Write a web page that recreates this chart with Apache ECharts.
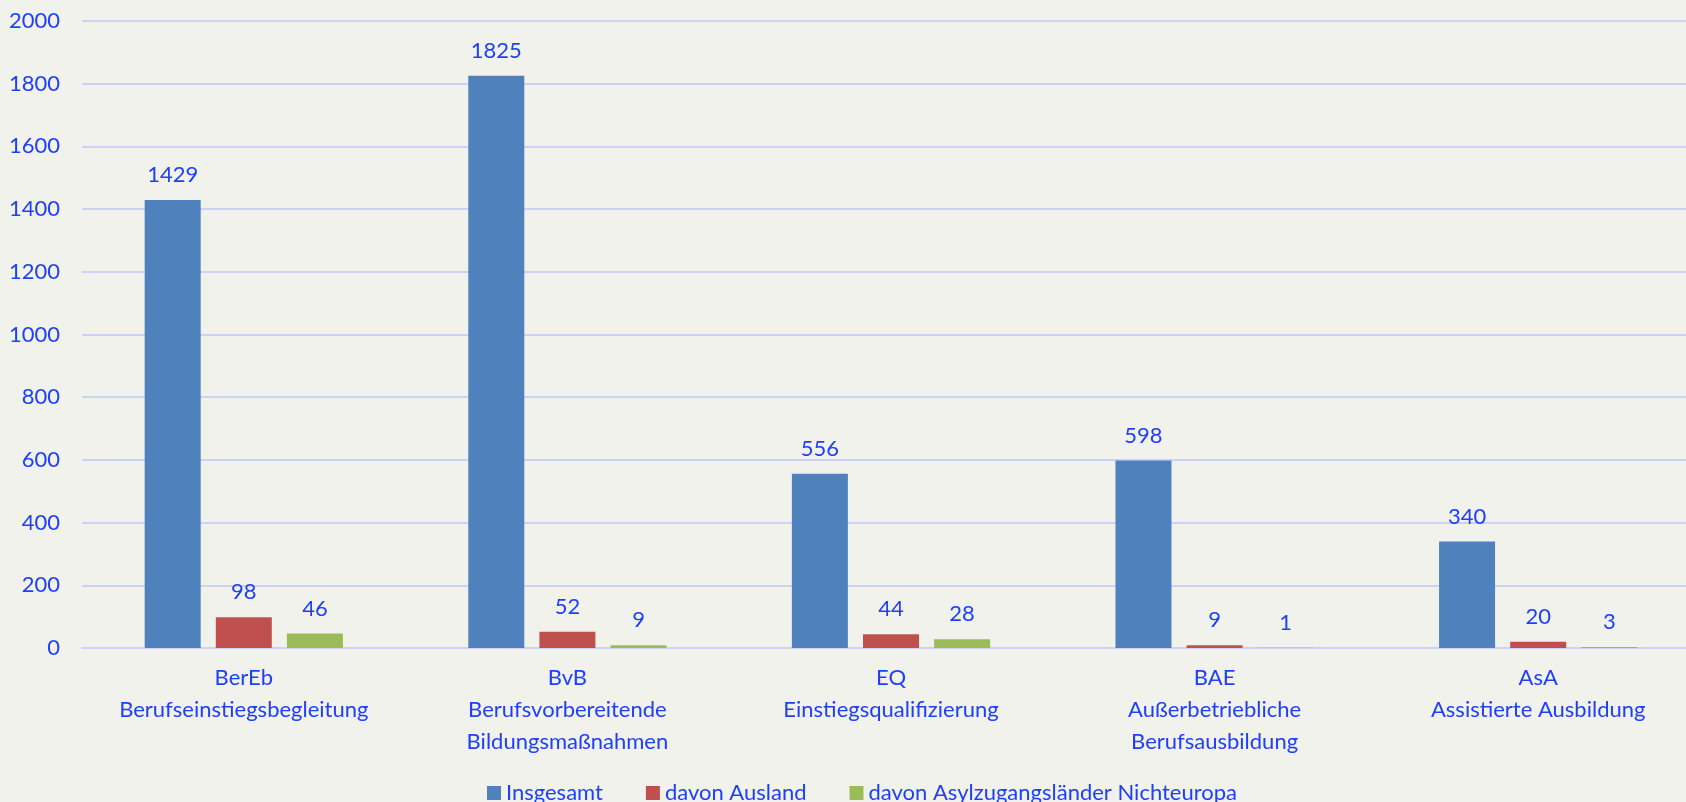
<!DOCTYPE html>
<html>
<head>
<meta charset="utf-8">
<script src="https://cdn.jsdelivr.net/npm/echarts@6/dist/echarts.min.js"></script>
<style>
  html, body { margin: 0; padding: 0; background: #f2f2ec; }
  #chart { width: 1686px; height: 802px; }
</style>
</head>
<body>
<div id="chart"></div>
<script>
const categories = [
  'BerEb\nBerufseinstiegsbegleitung',
  'BvB\nBerufsvorbereitende\nBildungsmaßnahmen',
  'EQ\nEinstiegsqualifizierung',
  'BAE\nAußerbetriebliche\nBerufsausbildung',
  'AsA\nAssistierte Ausbildung'
]
const seriesNames = ['Insgesamt', 'davon Ausland', 'davon Asylzugangsländer Nichteuropa']
const insgesamt = [1429, 1825, 556, 598, 340]
const ausland = [98, 52, 44, 9, 20]
const asyl = [46, 9, 28, 1, 3]
const yTicks = [0, 200, 400, 600, 800, 1000, 1200, 1400, 1600, 1800, 2000]

const textColor = '#1f40f8'
const gridColor = '#cbd2f6'
const font = 'Lato'
const colors = ['#4f81bd', '#c0504d', '#9bbb59']

const chart = echarts.init(document.getElementById('chart'))

const barLabel = {
  show: true,
  position: 'top',
  distance: 14,
  color: textColor,
  fontFamily: font,
  fontSize: 22
}

function makeBar(name, data, color) {
  return {
    name: name,
    type: 'bar',
    data: data,
    barWidth: 56,
    barGap: '27%',
    itemStyle: { color: color },
    label: barLabel,
    animation: false
  }
}

const option = {
  backgroundColor: '#f2f2ec',
  grid: {
    left: 82,
    top: 21,
    width: 1618,
    height: 627,
    outerBoundsMode: 'none'
  },
  legend: {
    data: seriesNames,
    left: 487,
    top: 782,
    padding: 0,
    itemWidth: 14,
    itemHeight: 14,
    itemGap: 43,
    icon: 'rect',
    textStyle: { color: textColor, fontFamily: font, fontSize: 22 }
  },
  xAxis: {
    type: 'category',
    data: categories,
    axisLine: { lineStyle: { color: gridColor, width: 2 } },
    axisTick: { show: false },
    axisLabel: {
      color: textColor,
      fontFamily: font,
      fontSize: 22,
      lineHeight: 32,
      margin: 14,
      interval: 0
    }
  },
  yAxis: {
    type: 'value',
    min: yTicks[0],
    max: yTicks[yTicks.length - 1],
    interval: 200,
    axisLine: { show: false },
    axisTick: { show: false },
    splitLine: { lineStyle: { color: gridColor, width: 2 } },
    axisLabel: {
      color: textColor,
      fontFamily: font,
      fontSize: 22,
      margin: 22,
      formatter: v => String(v)
    }
  },
  series: [
    makeBar(seriesNames[0], insgesamt, colors[0]),
    makeBar(seriesNames[1], ausland, colors[1]),
    makeBar(seriesNames[2], asyl, colors[2])
  ]
}

chart.setOption(option)
</script>
</body>
</html>
